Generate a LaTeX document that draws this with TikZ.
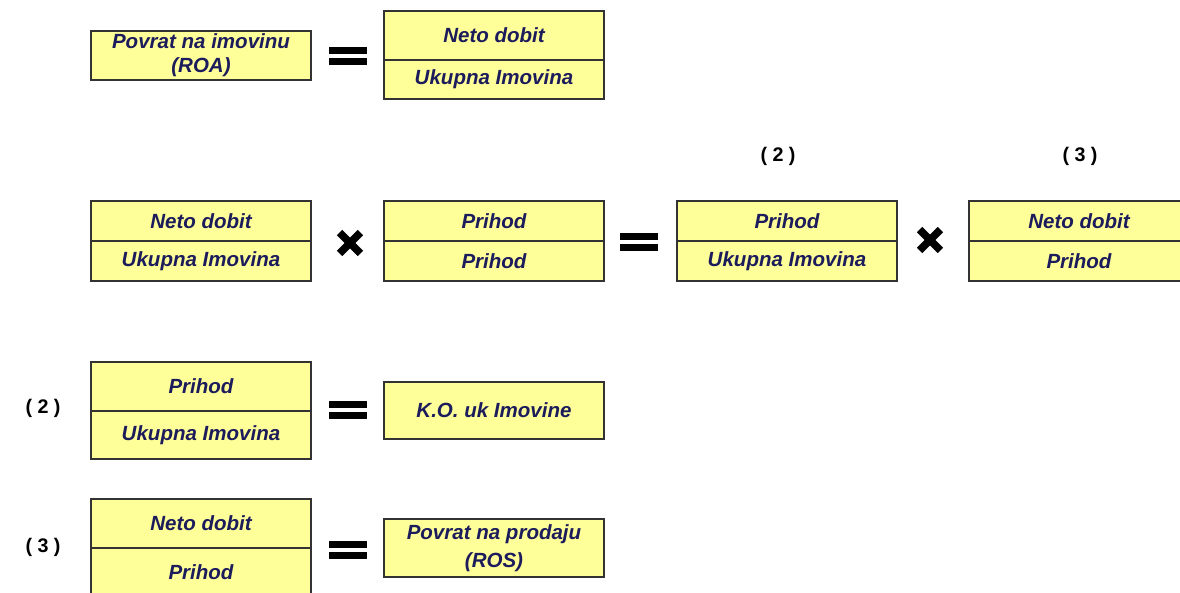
\documentclass[tikz,border=0pt]{standalone}
\usepackage{fontspec}
\setmainfont{Liberation Sans}
\usetikzlibrary{positioning}
\definecolor{boxfill}{HTML}{FFFF99}
\definecolor{boxtext}{HTML}{1C1C5C}
\tikzset{
  cell/.style={draw=black!80,line width=0.8pt,fill=boxfill,minimum width=5.5cm,
    inner sep=0pt,outer sep=0pt,align=center,text=boxtext,
    font=\fontsize{14.6}{20}\selectfont\bfseries\itshape},
  tag/.style={font=\fontsize{14}{16}\selectfont\bfseries,text=black},
  xsign/.style={line width=5.5pt,black}
}
\begin{document}
\begin{tikzpicture}
\useasboundingbox (0,0) rectangle (29.5,14.8);

% row 1
\node[cell,minimum height=1.225cm,font=\fontsize{14.6}{17}\selectfont\bfseries\itshape] (roa) at (5.025,13.4125) {Povrat na imovinu\\(ROA)};
\node[cell,minimum height=1.225cm] (roanum) at (12.35,13.9125) {Neto dobit};
\node[cell,minimum height=0.975cm,below=0pt of roanum] (roaden) {Ukupna Imovina};

% row 2
\node[cell,minimum height=1cm] (anum) at (5.025,9.275) {Neto dobit};
\node[cell,minimum height=1cm,below=0pt of anum] (aden) {Ukupna Imovina};
\node[cell,minimum height=1cm] (bnum) at (12.35,9.275) {Prihod};
\node[cell,minimum height=1cm,below=0pt of bnum] (bden) {Prihod};
\node[cell,minimum height=1cm] (cnum) at (19.675,9.275) {Prihod};
\node[cell,minimum height=1cm,below=0pt of cnum] (cden) {Ukupna Imovina};
\node[cell,minimum height=1cm] (dnum) at (26.975,9.275) {Neto dobit};
\node[cell,minimum height=1cm,below=0pt of dnum] (dden) {Prihod};
\node[tag] (tagc) at (19.45,10.9) {( 2 )};
\node[tag] (tagd) at (27.0,10.9) {( 3 )};

% row 3
\node[tag] (tage) at (1.075,4.6) {( 2 )};
\node[cell,minimum height=1.225cm] (enum) at (5.025,5.1375) {Prihod};
\node[cell,minimum height=1.2cm,below=0pt of enum] (eden) {Ukupna Imovina};
\node[cell,minimum height=1.425cm] (kou) at (12.35,4.5375) {K.O. uk Imovine};

% row 4
\node[tag] (tagf) at (1.075,1.125) {( 3 )};
\node[cell,minimum height=1.225cm] (fnum) at (5.025,1.7125) {Neto dobit};
\node[cell,minimum height=1.225cm,below=0pt of fnum] (fden) {Prihod};
\node[cell,minimum height=1.45cm] (ros) at (12.35,1.1) {Povrat na prodaju\\(ROS)};

% equals signs
\fill (8.2125,13.4375) rectangle (9.1625,13.6125);
\fill (8.2125,13.3375) rectangle (9.1625,13.1625);
\fill (15.4875,8.8) rectangle (16.4375,8.975);
\fill (15.4875,8.7) rectangle (16.4375,8.525);
\fill (8.2125,4.6) rectangle (9.1625,4.775);
\fill (8.2125,4.5) rectangle (9.1625,4.325);
\fill (8.2125,1.1) rectangle (9.1625,1.275);
\fill (8.2125,1.0) rectangle (9.1625,0.825);

% times signs
\draw[xsign] (8.49,8.465) -- (9.01,8.985);
\draw[xsign] (8.49,8.985) -- (9.01,8.465);
\draw[xsign] (22.99,8.54) -- (23.51,9.06);
\draw[xsign] (22.99,9.06) -- (23.51,8.54);

\end{tikzpicture}
\end{document}
